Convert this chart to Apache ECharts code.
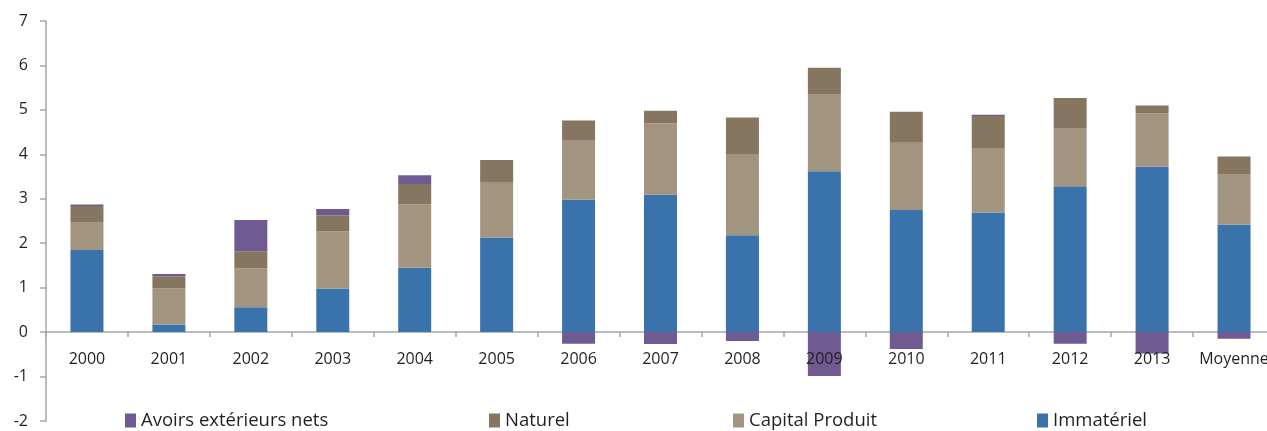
<!DOCTYPE html>
<html>
<head>
<meta charset="utf-8">
<script src="https://cdn.jsdelivr.net/npm/echarts@6/dist/echarts.min.js"></script>
<style>
  html, body { margin: 0; padding: 0; background: #fff; }
  #chart { width: 1267px; height: 431px; }
</style>
</head>
<body>
<div id="chart"></div>
<script>
// Categories along the horizontal axis
const categories = ['2000', '2001', '2002', '2003', '2004', '2005', '2006', '2007',
  '2008', '2009', '2010', '2011', '2012', '2013', 'Moyenne'];

// Stacked components (same order as categories)
const immateriel = [1.85, 0.17, 0.56, 0.98, 1.45, 2.13, 2.98, 3.09, 2.18, 3.62, 2.75, 2.69, 3.28, 3.72, 2.42];
const capitalProduit = [0.63, 0.81, 0.87, 1.29, 1.42, 1.23, 1.34, 1.61, 1.81, 1.74, 1.51, 1.45, 1.31, 1.20, 1.14];
const naturel = [0.36, 0.27, 0.39, 0.36, 0.46, 0.51, 0.44, 0.28, 0.84, 0.59, 0.70, 0.72, 0.68, 0.18, 0.39];
const avoirsExterieurs = [0.03, 0.06, 0.70, 0.14, 0.20, 0, -0.26, -0.27, -0.20, -0.99, -0.38, 0.03, -0.26, -0.48, -0.15];

// Value axis range
const yMin = -2;
const yMax = 7;
const yStep = 1;

const colors = {
  avoirs: '#705a92',
  naturel: '#86765f',
  capital: '#a39480',
  immateriel: '#3a73ab'
};

const textColor = '#231f20';
const axisGray = '#a6a6a6';
const fontFamily = '"Open Sans", "Noto Sans", sans-serif';

// Plot area geometry
const gridTop = 21;
const gridBottom = 10;
const chartHeight = 431;
const plotHeight = chartHeight - gridTop - gridBottom;
// distance from the bottom of the plot up to the zero line
const zeroOffset = plotHeight * (0 - yMin) / (yMax - yMin);

const chart = echarts.init(document.getElementById('chart'), null, { renderer: 'canvas' });

function legendAt(name, left) {
  return {
    data: [name],
    left: left,
    top: 411,
    padding: 0,
    itemWidth: 11,
    itemHeight: 14,
    itemGap: 6,
    icon: 'rect',
    textStyle: { color: textColor, fontSize: 18.5, fontFamily: fontFamily, padding: [0, 0, 0, 0] },
    selectedMode: false
  };
}

function barSeries(name, data, color) {
  return {
    name: name,
    type: 'bar',
    stack: 'total',
    barWidth: 33,
    data: data,
    itemStyle: { color: color },
    emphasis: { disabled: true }
  };
}

chart.setOption({
  animation: false,
  backgroundColor: '#ffffff',
  grid: { left: 46, right: -8, top: gridTop, bottom: gridBottom, containLabel: false, outerBoundsMode: 'none' },
  legend: [
    legendAt('Avoirs extérieurs nets', 125),
    legendAt('Naturel', 489),
    legendAt('Capital Produit', 733),
    legendAt('Immatériel', 1037)
  ],
  xAxis: [
    {
      // axis line and ticks sitting on the zero line
      type: 'category',
      data: categories,
      boundaryGap: true,
      axisLine: { onZero: true, lineStyle: { color: axisGray, width: 1.5 } },
      axisTick: { show: true, interval: 0, length: 5, lineStyle: { color: axisGray, width: 1.5 } },
      axisLabel: { show: false }
    },
    {
      // category labels just below the zero line, drawn above the bars
      type: 'category',
      data: categories,
      boundaryGap: true,
      position: 'bottom',
      offset: -zeroOffset,
      z: 10,
      axisLine: { show: false, onZero: false },
      axisTick: { show: false },
      axisLabel: { interval: 0, color: textColor, fontSize: 16, fontFamily: fontFamily, margin: 19 }
    }
  ],
  yAxis: {
    type: 'value',
    min: yMin,
    max: yMax,
    interval: yStep,
    splitLine: { show: false },
    axisLine: { show: true, lineStyle: { color: axisGray, width: 1.5 } },
    axisTick: { show: true, length: 6, lineStyle: { color: axisGray, width: 1.5 } },
    axisLabel: { color: textColor, fontSize: 16, fontFamily: fontFamily, margin: 18 }
  },
  series: [
    barSeries('Immatériel', immateriel, colors.immateriel),
    barSeries('Capital Produit', capitalProduit, colors.capital),
    barSeries('Naturel', naturel, colors.naturel),
    barSeries('Avoirs extérieurs nets', avoirsExterieurs, colors.avoirs)
  ]
});
</script>
</body>
</html>
